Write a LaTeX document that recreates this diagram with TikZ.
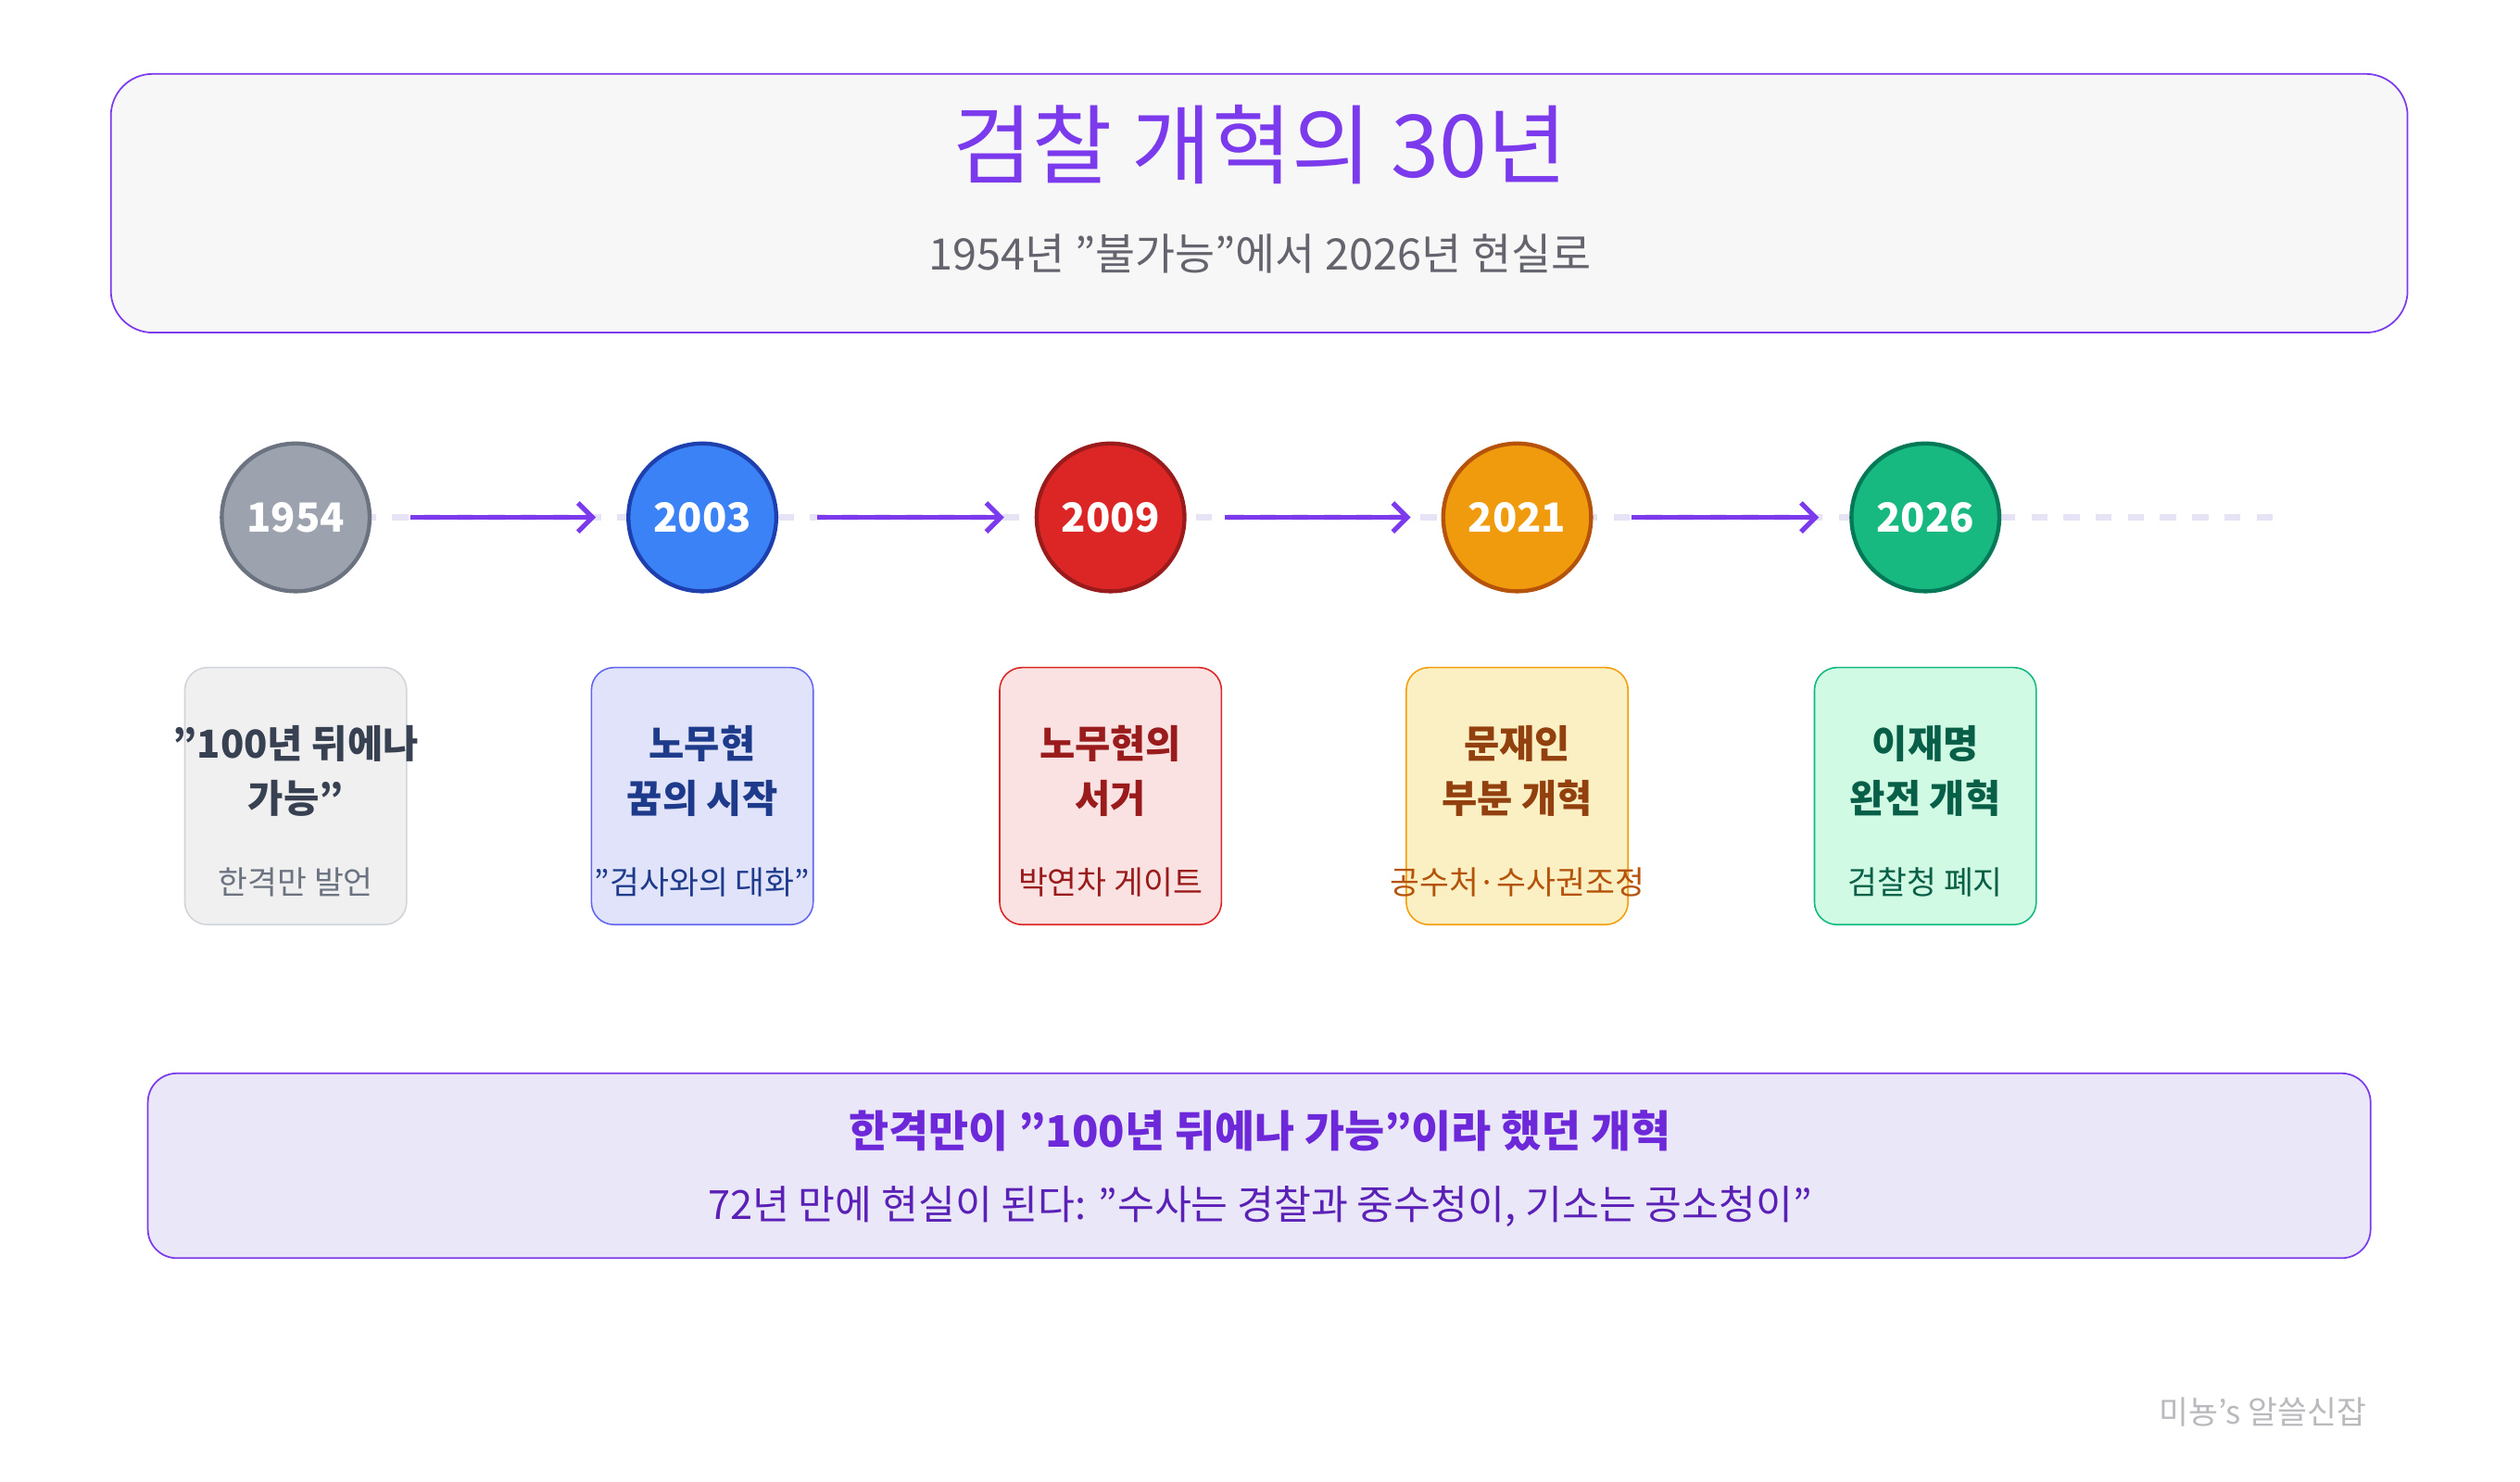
\documentclass[tikz,border=0pt]{standalone}
\usepackage{fontspec}
\setmainfont{Noto Sans CJK KR}
\usetikzlibrary{arrows.meta}
\definecolor{pur}{HTML}{7C3AED}
\definecolor{dpur}{HTML}{6D28D9}
\definecolor{hdrfill}{HTML}{F7F7F7}
\definecolor{subc}{HTML}{64646E}
\definecolor{dashc}{HTML}{E5E3F5}
\definecolor{footfill}{HTML}{EAE8F8}
\definecolor{f2c}{HTML}{5B21B6}
\definecolor{wmc}{HTML}{B9B9BE}
\begin{document}
\begin{tikzpicture}[x=1pt,y=1pt,
  yr/.style={circle,minimum size=92pt,line width=2.5pt,text=white,font=\fontsize{25}{28}\selectfont\bfseries,inner sep=0pt},
  card/.style={rounded corners=14pt,minimum width=138pt,minimum height=160pt,line width=0.9pt,anchor=north},
  ct/.style={font=\fontsize{24}{34}\selectfont\bfseries,align=center},
  cs/.style={font=\fontsize{20}{22}\selectfont},
  arr/.style={-{Straight Barb[length=9pt,width=18pt,line width=3pt]},line width=3pt,pur}]
\useasboundingbox (0,0) rectangle (1568,-922);
\node[draw=pur,fill=hdrfill,rounded corners=26pt,line width=1pt,minimum width=1429pt,minimum height=161pt] (hdr) at (783.5,-126.5) {};
\node[text=pur,font=\fontsize{54}{60}\selectfont] (title) at (784,-90) {검찰 개혁의 30년};
\node[text=subc,font=\fontsize{27}{30}\selectfont] (sub) at (784,-158) {1954년 "불가능"에서 2026년 현실로};
\coordinate (ls) at (184,-322); \coordinate (le) at (1420,-322);
\draw[dashc,line width=4pt,dash pattern=on 10pt off 10pt] (ls) -- (le);
\foreach \n/\x/\f/\d/\y in {a/184/9CA3AF/6B7280/1954,b/437/3B82F6/1E40AF/2003,c/691/DC2626/991B1B/2009,d/944/F09A0E/B45309/2021,e/1198/18B981/047857/2026}{
  \definecolor{cf}{HTML}{\f}\definecolor{cd}{HTML}{\d}
  \node[yr,fill=cf,draw=cd] (\n) at (\x,-322) {\raisebox{-18pt}{\y}};
}
\foreach \p/\q in {a/b,b/c,c/d,d/e}{
  \path (\p.east) ++(24pt,0) coordinate (\p s);
  \path (\q.west) ++(-19pt,0) coordinate (\q t);
  \draw[arr] (\p s) -- (\q t);
}
\foreach \n/\x/\f/\d/\t/\tc/\s/\sc in {
 ka/184/F0F0F0/D1D5DB/{"100년 뒤에나\\가능"}/374151/{한격만 발언}/6B7280,
 kb/437/E0E3FA/6366F1/{노무현\\꿈의 시작}/1E3A8A/{"검사와의 대화"}/1E3A8A,
 kc/691/FBE2E2/DC2626/{노무현의\\서거}/991B1B/{박연차 게이트}/991B1B,
 kd/944/FAF0C4/F59E0B/{문재인\\부분 개혁}/92400E/{공수처·수사권조정}/B45309,
 ke/1198/D1FAE5/10B981/{이재명\\완전 개혁}/065F46/{검찰청 폐지}/065F46}{
  \definecolor{cf}{HTML}{\f}\definecolor{cd}{HTML}{\d}\definecolor{tc}{HTML}{\tc}\definecolor{sc}{HTML}{\sc}
  \node[card,fill=cf,draw=cd] (\n) at (\x,-415) {};
  \node[ct,text=tc] (\n t) at (\x,-480) {\t};
  \node[cs,text=sc] (\n s) at (\x,-549) {\s};
}
\node[draw=pur,fill=footfill,rounded corners=18pt,line width=1pt,minimum width=1383pt,minimum height=115pt] (foot) at (783.5,-725.5) {};
\node[text=dpur,font=\fontsize{27}{30}\selectfont\bfseries] (f1) at (784,-704) {한격만이 "100년 뒤에나 가능"이라 했던 개혁};
\node[text=f2c,font=\fontsize{25}{28}\selectfont] (f2) at (784,-751) {72년 만에 현실이 된다: "수사는 경찰과 중수청이, 기소는 공소청이"};
\node[text=wmc,font=\fontsize{20}{22}\selectfont] (wm) at (1408,-879) {미뇽's 알쓸신잡};
\end{tikzpicture}
\end{document}
